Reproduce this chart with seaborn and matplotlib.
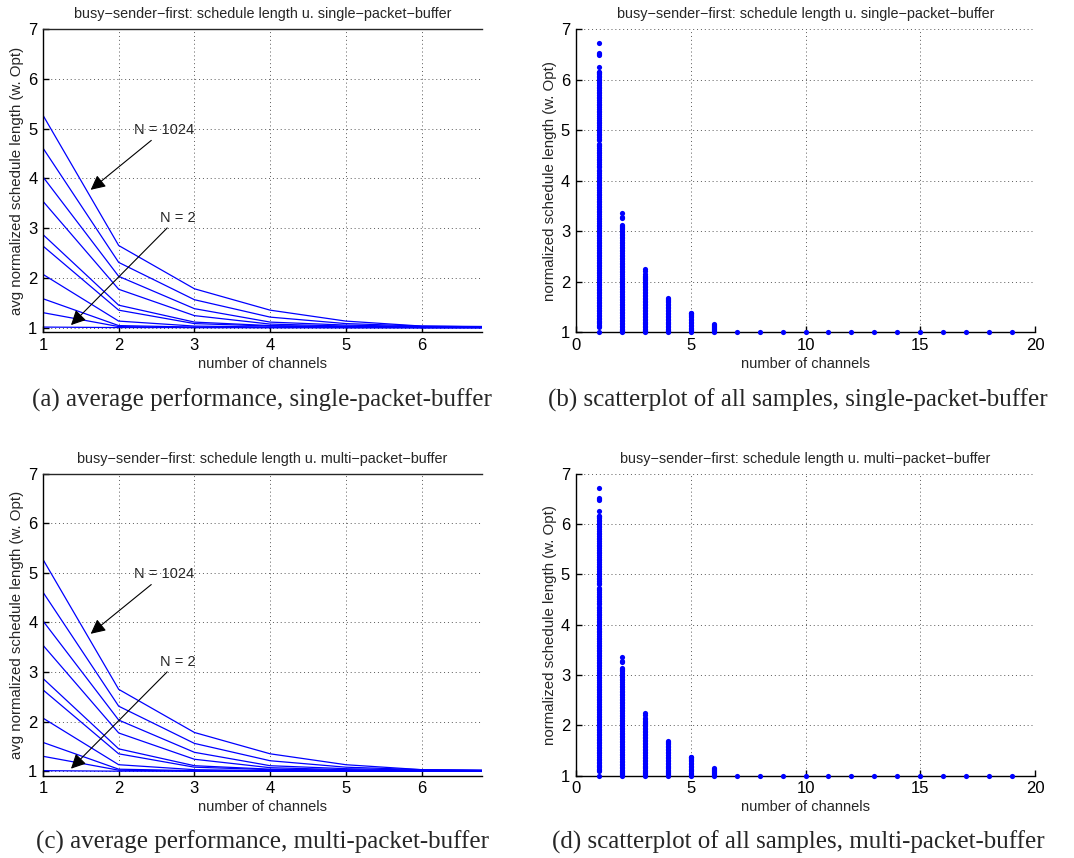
import numpy as np
import pandas as pd
import seaborn as sns
import matplotlib.pyplot as plt

# average normalized schedule length per number of channels, one curve per N
channels = [1, 2, 3, 4, 5, 6, 7]
n_values = [1024, 512, 256, 128, 64, 32, 16, 8, 4, 2]
avg_n1024 = [5.27, 2.65, 1.78, 1.35, 1.13, 1.03, 1.02]
avg_n512 = [4.61, 2.31, 1.56, 1.21, 1.08, 1.03, 1.01]
avg_n256 = [4.03, 2.03, 1.38, 1.11, 1.05, 1.02, 1.01]
avg_n128 = [3.54, 1.77, 1.24, 1.07, 1.03, 1.01, 1.00]
avg_n64 = [2.87, 1.45, 1.11, 1.04, 1.02, 1.00, 1.00]
avg_n32 = [2.64, 1.35, 1.08, 1.03, 1.01, 1.00, 1.00]
avg_n16 = [2.07, 1.13, 1.03, 1.01, 1.00, 1.00, 1.00]
avg_n8 = [1.58, 1.04, 1.01, 1.00, 1.00, 1.00, 1.00]
avg_n4 = [1.30, 1.02, 1.00, 1.00, 1.00, 1.00, 1.00]
avg_n2 = [1.01, 1.00, 1.00, 1.00, 1.00, 1.00, 1.00]
avg_curves = [avg_n1024, avg_n512, avg_n256, avg_n128, avg_n64,
              avg_n32, avg_n16, avg_n8, avg_n4, avg_n2]

# all samples (normalized schedule length) per number of channels
samples_ch1 = [1.00, 1.10, 1.12, 1.14, 1.17, 1.19, 1.22, 1.25, 1.28, 1.31,
               1.34, 1.38, 1.41, 1.44, 1.47, 1.51, 1.54, 1.57, 1.60, 1.64,
               1.67, 1.70, 1.73, 1.77, 1.80, 1.83, 1.86, 1.90, 1.93, 1.96,
               1.99, 2.03, 2.06, 2.10, 2.13, 2.16, 2.19, 2.23, 2.26, 2.30,
               2.33, 2.36, 2.39, 2.43, 2.46, 2.50, 2.53, 2.56, 2.59, 2.63,
               2.66, 2.70, 2.73, 2.76, 2.79, 2.83, 2.86, 2.90, 2.93, 2.96,
               2.99, 3.03, 3.06, 3.10, 3.13, 3.17, 3.20, 3.23, 3.26, 3.30,
               3.33, 3.37, 3.40, 3.44, 3.47, 3.50, 3.53, 3.57, 3.60, 3.64,
               3.67, 3.71, 3.74, 3.78, 3.81, 3.85, 3.88, 3.91, 3.94, 3.98,
               4.01, 4.05, 4.08, 4.12, 4.15, 4.19, 4.22, 4.26, 4.29, 4.33,
               4.36, 4.40, 4.43, 4.47, 4.50, 4.54, 4.57, 4.61, 4.64, 4.68,
               4.70, 4.72, 4.80, 4.83, 4.86, 4.90, 4.93, 4.96, 5.00, 5.03,
               5.07, 5.10, 5.14, 5.17, 5.21, 5.24, 5.28, 5.31, 5.35, 5.38,
               5.42, 5.45, 5.49, 5.52, 5.56, 5.59, 5.63, 5.66, 5.70, 5.73,
               5.76, 5.80, 5.83, 5.86, 5.90, 5.93, 5.96, 5.99, 6.02, 6.05,
               6.08, 6.11, 6.13, 6.15, 6.16, 6.25, 6.48, 6.50, 6.52, 6.72]
samples_ch2 = [1.00, 1.02, 1.03, 1.05, 1.07, 1.10, 1.12, 1.15, 1.18, 1.21,
               1.24, 1.27, 1.30, 1.33, 1.37, 1.40, 1.43, 1.46, 1.50, 1.53,
               1.56, 1.59, 1.63, 1.66, 1.69, 1.72, 1.76, 1.79, 1.82, 1.85,
               1.89, 1.92, 1.95, 1.98, 2.02, 2.05, 2.08, 2.11, 2.15, 2.18,
               2.21, 2.24, 2.28, 2.31, 2.34, 2.37, 2.41, 2.44, 2.47, 2.50,
               2.53, 2.56, 2.60, 2.63, 2.66, 2.69, 2.73, 2.76, 2.79, 2.82,
               2.86, 2.89, 2.92, 2.95, 2.98, 3.01, 3.04, 3.07, 3.09, 3.11,
               3.13, 3.25, 3.28, 3.35]
samples_ch3 = [1.00, 1.02, 1.03, 1.05, 1.07, 1.10, 1.12, 1.15, 1.17, 1.20,
               1.23, 1.26, 1.29, 1.32, 1.35, 1.38, 1.41, 1.44, 1.47, 1.50,
               1.53, 1.56, 1.59, 1.62, 1.65, 1.68, 1.71, 1.74, 1.77, 1.80,
               1.83, 1.86, 1.89, 1.92, 1.95, 1.98, 2.00, 2.03, 2.05, 2.07,
               2.09, 2.12, 2.15, 2.20, 2.25]
samples_ch4 = [1.00, 1.02, 1.03, 1.05, 1.07, 1.10, 1.12, 1.15, 1.17, 1.20,
               1.23, 1.26, 1.29, 1.32, 1.35, 1.38, 1.41, 1.44, 1.47, 1.50,
               1.53, 1.56, 1.59, 1.62, 1.64, 1.66, 1.68]
samples_ch5 = [1.00, 1.02, 1.04, 1.06, 1.09, 1.11, 1.14, 1.17, 1.20, 1.23,
               1.26, 1.29, 1.31, 1.33, 1.35, 1.37, 1.38]
samples_ch6 = [1.00, 1.02, 1.04, 1.06, 1.08, 1.10, 1.12, 1.14, 1.15]
samples_ch7_19 = [1.00]
sample_lists = [samples_ch1, samples_ch2, samples_ch3, samples_ch4,
                samples_ch5, samples_ch6] + [samples_ch7_19] * 13

titles = ["busy\u2212sender\u2212first: schedule length u. single\u2212packet\u2212buffer",
          "busy\u2212sender\u2212first: schedule length u. multi\u2212packet\u2212buffer"]
captions = ["(a) average performance, single-packet-buffer",
            "(b) scatterplot of all samples, single-packet-buffer",
            "(c) average performance, multi-packet-buffer",
            "(d) scatterplot of all samples, multi-packet-buffer"]

avg_df = pd.DataFrame([(n, c, v) for n, curve in zip(n_values, avg_curves)
                       for c, v in zip(channels, curve)],
                      columns=["N", "channels", "avg"])
scatter_df = pd.DataFrame([(i + 1, v) for i, vals in enumerate(sample_lists)
                           for v in vals], columns=["channels", "length"])

sns.set_style("ticks")
plt.rcParams['font.family'] = ['Liberation Sans', 'DejaVu Sans']

fig = plt.figure(figsize=(10.74, 8.58), dpi=100)


def style(ax, top_solid):
    ax.grid(True, linestyle=(0, (1, 3)), color='0.35', linewidth=0.7)
    ax.set_axisbelow(True)
    for s in ['left', 'bottom']:
        ax.spines[s].set_linewidth(1.0)
        ax.spines[s].set_color('black')
    ax.spines['right'].set_visible(False)
    ax.spines['top'].set_visible(top_solid)
    ax.spines['top'].set_linewidth(1.0)
    ax.tick_params(direction='in', length=4, width=1, labelsize=12,
                   colors='black', pad=4)


def line_panel(rect, title):
    ax = fig.add_axes(rect)
    sns.lineplot(data=avg_df, x="channels", y="avg", units="N",
                 estimator=None, color="#0000ff", linewidth=0.9, ax=ax)
    ax.set_xlim(1, 6.8)
    ax.set_ylim(0.91, 7)
    ax.set_xticks([1, 2, 3, 4, 5, 6])
    ax.set_yticks([1, 2, 3, 4, 5, 6, 7])
    style(ax, True)
    ax.set_title(title, fontsize=10.4, pad=8)
    ax.set_xlabel("number of channels", fontsize=10.5, labelpad=3)
    ax.set_ylabel("avg normalized schedule length (w. Opt)", fontsize=10.8,
                  labelpad=3)
    arrow = dict(arrowstyle='-|>', color='black', lw=0.8,
                 mutation_scale=22, shrinkA=0, shrinkB=0)
    ax.annotate("N = 1024", xy=(1.63, 3.77), xytext=(2.20, 4.97),
                fontsize=10.5, va='center', ha='left', arrowprops=arrow)
    ax.annotate("N = 2", xy=(1.37, 1.05), xytext=(2.54, 3.21),
                fontsize=10.5, va='center', ha='left', arrowprops=arrow)
    return ax


def scatter_panel(rect, title):
    ax = fig.add_axes(rect)
    sns.scatterplot(data=scatter_df, x="channels", y="length",
                    color="#0000ff", s=14, linewidth=0, ax=ax, clip_on=False,
                    zorder=3)
    ax.set_xlim(0, 20)
    ax.set_ylim(1, 7)
    ax.set_xticks([0, 5, 10, 15, 20])
    ax.set_yticks([1, 2, 3, 4, 5, 6, 7])
    style(ax, False)
    ax.set_title(title, fontsize=10.4, pad=8)
    ax.set_xlabel("number of channels", fontsize=10.5, labelpad=3)
    ax.set_ylabel("normalized schedule length (w. Opt)", fontsize=10.8,
                  labelpad=3)
    return ax


line_panel([0.040, 0.613, 0.409, 0.353], titles[0])
scatter_panel([0.536, 0.613, 0.428, 0.353], titles[0])
line_panel([0.040, 0.096, 0.409, 0.352], titles[1])
scatter_panel([0.536, 0.096, 0.428, 0.352], titles[1])

cap_xy = [(262, 400), (798, 400), (262, 842), (798, 842)]
for (cx, cy), text in zip(cap_xy, captions):
    fig.text(cx / 1074, 1 - cy / 858, text, ha='center', va='center',
             family='Liberation Serif', fontsize=18)

fig.savefig("out.png", dpi=100)
